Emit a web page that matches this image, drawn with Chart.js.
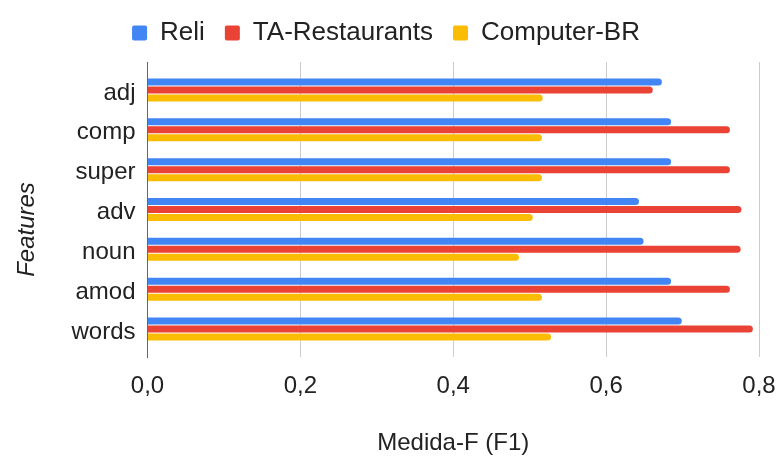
<!DOCTYPE html>
<html>
<head>
<meta charset="utf-8">
<script src="https://cdn.jsdelivr.net/npm/chart.js@4"></script>
<style>
  html, body { margin: 0; padding: 0; background: #ffffff; }
  #wrap { width: 777px; height: 457px; }
</style>
</head>
<body>
<div id="wrap"><canvas id="c" width="777" height="457"></canvas></div>
<script>
const categories = ['adj', 'comp', 'super', 'adv', 'noun', 'amod', 'words'];
const reli = [0.673, 0.685, 0.685, 0.643, 0.649, 0.685, 0.699];
const taRestaurants = [0.661, 0.762, 0.762, 0.777, 0.776, 0.762, 0.792];
const computerBR = [0.517, 0.516, 0.516, 0.504, 0.486, 0.516, 0.528];
const seriesNames = ['Reli', 'TA-Restaurants', 'Computer-BR'];
const xTicks = [0, 0.2, 0.4, 0.6, 0.8];

const FONT = '"Liberation Sans", Arial, sans-serif';
const TEXT = '#222222';

const legendHeightPlugin = {
  id: 'legendHeight',
  beforeUpdate(chart) {
    if (chart.legend && !chart.legend._patched) {
      const orig = chart.legend.fit;
      chart.legend.fit = function () { orig.call(this); this.height = 62; };
      chart.legend._patched = true;
    }
  }
};

new Chart(document.getElementById('c'), {
  type: 'bar',
  plugins: [legendHeightPlugin],
  data: {
    labels: categories,
    datasets: [
      { label: seriesNames[0], data: reli, backgroundColor: '#4285F4' },
      { label: seriesNames[1], data: taRestaurants, backgroundColor: '#EA4335' },
      { label: seriesNames[2], data: computerBR, backgroundColor: '#FBBC04' }
    ]
  },
  options: {
    indexAxis: 'y',
    responsive: false,
    animation: false,
    devicePixelRatio: 1,
    layout: { padding: { top: 0, right: 18, bottom: 0, left: 13 } },
    datasets: {
      bar: { categoryPercentage: 0.602, barPercentage: 0.875, borderRadius: 4, borderSkipped: 'start' }
    },
    plugins: {
      legend: {
        position: 'top',
        labels: {
          boxWidth: 15, boxHeight: 15, padding: 20, color: TEXT,
          useBorderRadius: true, borderRadius: 2,
          font: { family: FONT, size: 26 }
        }
      },
      tooltip: { enabled: false }
    },
    scales: {
      x: {
        min: 0, max: 0.8,
        afterBuildTicks(s) { s.ticks = xTicks.map(v => ({ value: v })); },
        afterFit(s) { s.height = 100; },
        ticks: {
          color: TEXT, padding: 0,
          font: { family: FONT, size: 24 },
          callback: v => Number(v).toFixed(1).replace('.', ',')
        },
        grid: { color: '#cccccc', drawTicks: true, tickLength: 15, tickColor: 'rgba(0,0,0,0)' },
        border: { display: false },
        title: {
          display: true, text: 'Medida-F (F1)', color: TEXT,
          font: { family: FONT, size: 24 }, padding: { top: 0, bottom: -1 }
        }
      },
      y: {
        afterBuildTicks(s) { s._startValue = -0.7; s._valueRange = 7.4; },
        afterFit(s) { s.width = 134.5; },
        ticks: { color: TEXT, padding: 12, labelOffset: 3, font: { family: FONT, size: 24 } },
        grid: { display: false, drawTicks: false },
        border: { display: true, color: '#666666', width: 1 },
        title: {
          display: true, text: 'Features\u00A0\u00A0\u00A0\u00A0\u00A0\u00A0', color: TEXT,
          font: { family: FONT, size: 24, style: 'italic' }, padding: { top: 0, bottom: 0 }
        }
      }
    }
  }
});
</script>
</body>
</html>
